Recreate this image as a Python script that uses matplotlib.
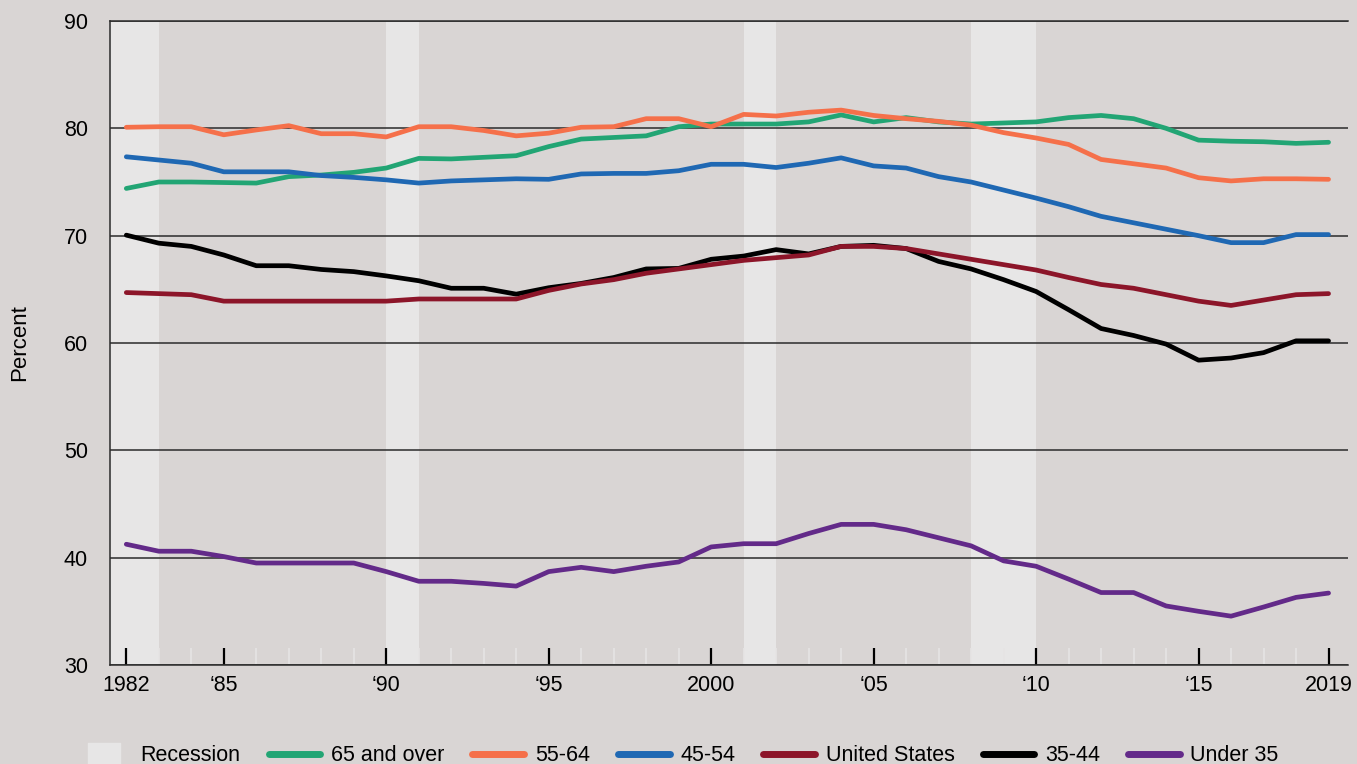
import matplotlib
matplotlib.use("Agg")
import matplotlib.pyplot as plt
from matplotlib.lines import Line2D
from matplotlib.ticker import MultipleLocator

plt.rcParams["font.family"] = ["Liberation Sans", "DejaVu Sans"]

years = list(range(1982, 2020))

age_65_over = [74.4, 75.0, 75.0, 74.95, 74.9, 75.5, 75.65, 75.9, 76.3, 77.2, 77.15, 77.3, 77.45,
               78.3, 79.0, 79.15, 79.3, 80.15, 80.4, 80.4, 80.4, 80.6, 81.25, 80.6, 81.0, 80.6,
               80.4, 80.5, 80.6, 81.0, 81.2, 80.9, 80.0, 78.9, 78.8, 78.75, 78.6, 78.7]
age_55_64 = [80.1, 80.15, 80.15, 79.4, 79.85, 80.25, 79.5, 79.5, 79.2, 80.15, 80.15, 79.8, 79.3,
             79.55, 80.1, 80.15, 80.9, 80.9, 80.15, 81.3, 81.15, 81.5, 81.7, 81.2, 80.9, 80.65,
             80.3, 79.6, 79.1, 78.5, 77.1, 76.7, 76.3, 75.4, 75.1, 75.3, 75.3, 75.25]
age_45_54 = [77.35, 77.05, 76.75, 75.95, 75.95, 75.95, 75.6, 75.43, 75.2, 74.9, 75.1, 75.2, 75.3,
             75.25, 75.75, 75.8, 75.8, 76.05, 76.65, 76.65, 76.35, 76.75, 77.25, 76.5, 76.3, 75.5,
             75.0, 74.25, 73.5, 72.7, 71.8, 71.2, 70.6, 70.0, 69.35, 69.35, 70.1, 70.1]
united_states = [64.7, 64.6, 64.5, 63.9, 63.9, 63.9, 63.9, 63.9, 63.9, 64.1, 64.1, 64.1, 64.1,
                 64.9, 65.5, 65.9, 66.5, 66.9, 67.3, 67.7, 67.95, 68.2, 69.0, 69.0, 68.8, 68.3,
                 67.8, 67.3, 66.8, 66.1, 65.45, 65.1, 64.5, 63.9, 63.5, 64.0, 64.5, 64.6]
age_35_44 = [70.05, 69.3, 69.0, 68.2, 67.2, 67.2, 66.85, 66.65, 66.25, 65.8, 65.1, 65.1, 64.55,
             65.15, 65.55, 66.1, 66.9, 66.95, 67.8, 68.1, 68.7, 68.3, 69.0, 69.1, 68.8, 67.6,
             66.9, 65.9, 64.8, 63.1, 61.35, 60.7, 59.9, 58.4, 58.6, 59.1, 60.2, 60.2]
under_35 = [41.25, 40.6, 40.6, 40.1, 39.5, 39.5, 39.5, 39.5, 38.7, 37.8, 37.8, 37.6, 37.35,
            38.7, 39.1, 38.7, 39.2, 39.6, 41.0, 41.3, 41.3, 42.25, 43.1, 43.1, 42.6, 41.85,
            41.1, 39.7, 39.2, 38.0, 36.75, 36.75, 35.5, 35.0, 34.55, 35.4, 36.3, 36.7]

recessions = [(1981.5, 1983), (1990, 1991), (2001, 2002), (2008, 2010)]

series = [
    ("65 and over", age_65_over, "#22a574"),
    ("55-64", age_55_64, "#f5704a"),
    ("45-54", age_45_54, "#1f68b3"),
    ("United States", united_states, "#8c1529"),
    ("35-44", age_35_44, "#000000"),
    ("Under 35", under_35, "#632a89"),
]

x_ticks = [1982, 1985, 1990, 1995, 2000, 2005, 2010, 2015, 2019]
x_labels = ["1982", "\u201885", "\u201890", "\u201895", "2000", "\u201805", "\u201810", "\u201815", "2019"]

BG = "#d9d5d4"
REC = "#e7e6e6"

fig = plt.figure(figsize=(13.57, 7.64), dpi=100, facecolor=BG)
ax = fig.add_axes([0.0811, 0.1296, 0.9123, 0.8429], facecolor=BG)

for a, b in recessions:
    ax.axvspan(a, b, color=REC, lw=0, zorder=0)

ax.set_xlim(1981.5, 2019.6)
ax.set_ylim(30, 90)
ax.yaxis.set_major_locator(MultipleLocator(10))
ax.grid(axis="y", color="#2b2b2b", lw=1.1, zorder=1)

# later in the list = drawn on top
draw_order = ["65 and over", "55-64", "45-54", "35-44", "United States", "Under 35"]
lookup = {n: (v, c) for n, v, c in series}
for z, n in enumerate(draw_order):
    v, c = lookup[n]
    ax.plot(years, v, color=c, lw=3.4, solid_capstyle="round", solid_joinstyle="round", zorder=3 + z)

ax.spines["right"].set_visible(False)
for s in ["left", "top", "bottom"]:
    ax.spines[s].set_color("#2b2b2b")
    ax.spines[s].set_linewidth(1.1)

ax.set_xticks(x_ticks)
ax.set_xticklabels(x_labels)
ax.set_xticks(years, minor=True)
ax.tick_params(axis="x", which="major", direction="in", length=12, width=1.6, color="black",
               labelsize=15.5, pad=7)
ax.tick_params(axis="x", which="minor", direction="in", length=12, width=1.2, color="#e6e4e4")
ax.tick_params(axis="y", length=0, labelsize=15.5, pad=16)
ax.set_ylabel("Percent", fontsize=16, labelpad=24)

rect = [(-1, -0.7), (1, -0.7), (1, 0.7), (-1, 0.7), (-1, -0.7)]
handles = [Line2D([0], [0], marker=rect, markersize=23, color=REC, linestyle="none", label="Recession")]
for name, vals, col in series:
    handles.append(Line2D([0], [0], color=col, lw=5, solid_capstyle="round", label=name))
fig.legend(handles=handles, loc="center", bbox_to_anchor=(0.5, 0.011), ncol=7, frameon=False,
           fontsize=15.5, handlelength=2.4, handletextpad=0.5, columnspacing=1.3)

fig.savefig("out.png", dpi=100, facecolor=BG)
